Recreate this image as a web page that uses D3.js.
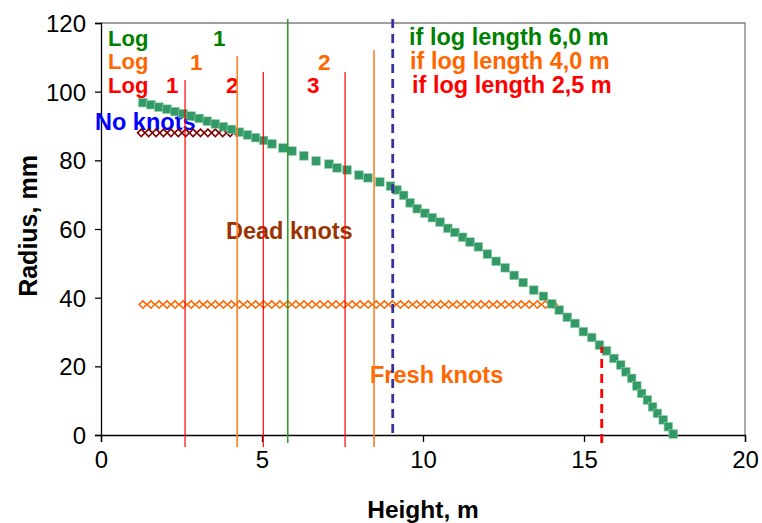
<!DOCTYPE html>
<html><head><meta charset="utf-8">
<script src="https://cdn.jsdelivr.net/npm/d3@7"></script>
<style>body{margin:0;background:#fff}svg{display:block}text{font-family:"Liberation Sans",Arial,sans-serif}</style>
</head><body><svg id="c" width="762" height="523"></svg>
<script>
// Stem profile (green squares): height (m) and radius (mm)
const stemHeight = [1.30,1.55,1.80,2.05,2.30,2.55,2.80,3.05,3.30,3.55,3.80,4.05,4.30,4.55,4.80,5.05,5.31,5.65,5.93,6.30,6.68,7.08,7.33,7.64,8.01,8.29,8.66,8.99,9.19,9.40,9.60,9.82,10.06,10.29,10.53,10.77,10.99,11.23,11.46,11.72,12.00,12.27,12.55,12.83,13.11,13.44,13.74,14.00,14.23,14.48,14.72,14.98,15.24,15.48,15.70,15.93,16.14,16.30,16.48,16.64,16.79,16.97,17.13,17.28,17.46,17.62,17.77];
const stemRadius = [96.8,96.2,95.5,94.9,94.2,93.6,92.9,92.2,91.4,90.6,89.8,89.0,88.2,87.4,86.6,85.8,84.8,83.6,82.7,81.3,79.8,78.9,77.8,77.2,75.7,74.9,73.7,72.5,71.4,69.8,67.6,65.9,64.6,63.3,62.0,60.2,59.0,57.6,56.2,54.8,52.7,50.6,48.7,46.5,44.4,42.2,40.4,38.2,36.4,34.3,32.5,30.1,28.4,26.2,24.5,22.3,20.4,18.4,16.5,14.3,12.1,10.2,8.2,6.3,4.4,2.4,0.3];
// Dead knots (maroon diamonds)
const deadHeight = [1.25,1.48,1.71,1.94,2.17,2.40,2.63,2.86,3.09,3.32,3.55,3.78,4.01,4.24];
const deadRadius = [88,88,88,88,88,88,88,88,88,88,88,88,88,88];
// Fresh knots (orange diamonds)
const freshHeight = [1.30,1.55,1.80,2.05,2.30,2.55,2.80,3.05,3.30,3.55,3.80,4.05,4.30,4.55,4.80,5.05,5.30,5.55,5.80,6.05,6.30,6.55,6.80,7.05,7.30,7.55,7.80,8.05,8.30,8.55,8.80,9.05,9.30,9.55,9.80,10.05,10.30,10.55,10.80,11.05,11.30,11.55,11.80,12.05,12.30,12.55,12.80,13.05,13.30,13.55,13.80,14.05];
const freshRadius = [38,38,38,38,38,38,38,38,38,38,38,38,38,38,38,38,38,38,38,38,38,38,38,38,38,38,38,38,38,38,38,38,38,38,38,38,38,38,38,38,38,38,38,38,38,38,38,38,38,38,38,38];
// Cutting positions
const cut25Height = [2.61,5.04,7.58];   const cut25Top = [103.4,105.7,105.7];
const cut40Height = [4.23,8.48];        const cut40Top = [110.4,112.1];
const cut60Height = [5.80];             const cut60Top = [121.2];
const deadLimitHeight = 9.06;           // blue dashed
const topDiamHeight = 15.55, topDiamRadius = 25.7; // red dashed
const xTicks = [0,5,10,15,20];
const yTicks = [0,20,40,60,80,100,120];

const svg = d3.select("#c");
const L=101,R=745,T=23,B=435;
const x = d3.scaleLinear().domain([0,20]).range([L,R]);
const y = d3.scaleLinear().domain([0,120]).range([B,T]);
const F = '"Liberation Sans",Arial,sans-serif';

// plot border (top/right grey)
svg.append("path").attr("d",`M${L},${T}H${R}V${B}`).attr("fill","none").attr("stroke","#808080").attr("stroke-width",1.3);

// axes
const xa = svg.append("g").attr("transform",`translate(0,${B})`)
  .call(d3.axisBottom(x).tickValues(xTicks).tickSize(7).tickPadding(9).tickFormat(d3.format("d")));
const ya = svg.append("g").attr("transform",`translate(${L},0)`)
  .call(d3.axisLeft(y).tickValues(yTicks).tickSize(6).tickPadding(9).tickFormat(d3.format("d")));
[xa,ya].forEach(g=>{g.select(".domain").attr("stroke","#000").attr("stroke-width",1.3);
  g.selectAll(".tick line").attr("stroke","#000").attr("stroke-width",1.3);
  g.selectAll("text").attr("font-family",F).attr("font-size",24).attr("fill","#000");});
ya.selectAll("text").attr("dy","0.36em");

svg.append("text").attr("x",423).attr("y",518).attr("text-anchor","middle").attr("font-family",F)
  .attr("font-weight","bold").attr("font-size",24.5).text("Height, m");
svg.append("text").attr("transform","translate(37,226) rotate(-90)").attr("text-anchor","middle").attr("font-family",F)
  .attr("font-weight","bold").attr("font-size",25).text("Radius, mm");

// annotations
function t(xp,yp,s,c,fs){svg.append("text").attr("x",xp).attr("y",yp).attr("font-family",F).attr("font-weight","bold")
  .attr("font-size",fs||23.5).attr("fill",c).text(s);}
const G="#008000",O="#FF6600",Rd="#FF0000";
t(108,46,"Log",G,22); t(213,46,"1",G,22.5);
t(108,69,"Log",O,22); t(190,70,"1",O,22.5); t(318,70,"2",O,22.5);
t(108,93,"Log",Rd,22); t(166,93,"1",Rd,22.5); t(226,93,"2",Rd,22.5); t(307,93,"3",Rd,22.5);
t(409,45,"if log length 6,0 m",G); t(410,69,"if log length 4,0 m",O); t(412,93,"if log length 2,5 m",Rd);
t(95,130,"No knots","#0000FF");
t(226,239,"Dead knots","#993300");
t(370,383,"Fresh knots",O);

// markers
const diamond = (cx,cy,r)=>`M${cx},${cy-r}L${cx+r},${cy}L${cx},${cy+r}L${cx-r},${cy}Z`;
svg.append("g").selectAll("path").data(d3.zip(deadHeight,deadRadius)).join("path")
  .attr("d",d=>diamond(x(d[0]),y(d[1]),3.7)).attr("fill","#fff").attr("stroke","#800000").attr("stroke-width",1.6);
svg.append("g").selectAll("path").data(d3.zip(freshHeight,freshRadius)).join("path")
  .attr("d",d=>diamond(x(d[0]),y(d[1]),3.7)).attr("fill","#fff").attr("stroke",O).attr("stroke-width",1.6);
svg.append("g").selectAll("rect").data(d3.zip(stemHeight,stemRadius)).join("rect")
  .attr("x",d=>x(d[0])-4.3).attr("y",d=>y(d[1])-4.3).attr("width",8.6).attr("height",8.6)
  .attr("fill","#339966").attr("stroke","#8fcfa8").attr("stroke-width",0.6);

// cutting lines
function vline(h,r0,r1,c,w,dash){const l=svg.append("line").attr("x1",x(h)).attr("x2",x(h)).attr("y1",y(r0)).attr("y2",y(r1))
  .attr("stroke",c).attr("stroke-width",w); if(dash) l.attr("stroke-dasharray",dash);}
cut25Height.forEach((h,i)=>vline(h,-3.5,cut25Top[i],Rd,1.2));
cut40Height.forEach((h,i)=>vline(h,-3.5,cut40Top[i],"#FF7F27",1.6));
cut60Height.forEach((h,i)=>vline(h,-2.3,cut60Top[i],"#339933",1.6));
vline(deadLimitHeight,0.6,122.5,"#333399",2.8,"9,6");
vline(topDiamHeight,-2.3,topDiamRadius,Rd,2.8,"9,6");
</script></body></html>
